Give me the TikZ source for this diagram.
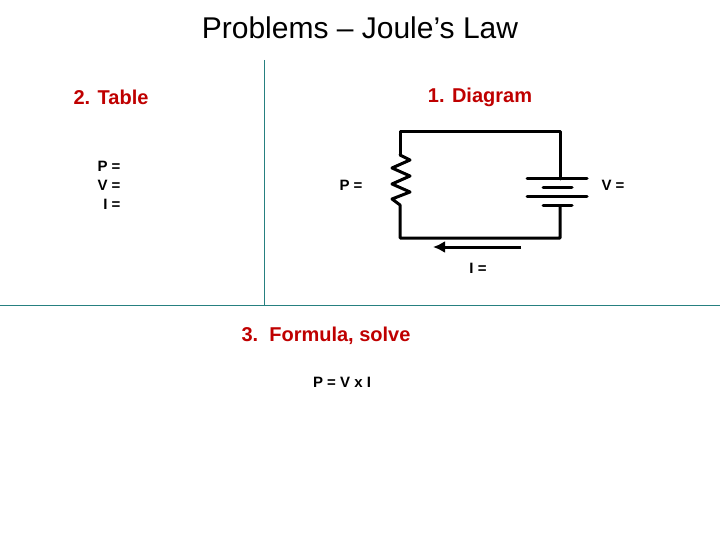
\documentclass[tikz,border=0pt]{standalone}
\usepackage{fontspec}
\usetikzlibrary{arrows.meta}
\setmainfont{Liberation Sans}
\begin{document}
\begin{tikzpicture}[x=1pt,y=-1pt,
  lbl/.style={text=red!75!black,font=\fontsize{20}{24}\selectfont\bfseries},
  val/.style={font=\fontsize{15}{19}\selectfont\bfseries,align=center},
  wire/.style={line width=3pt,line cap=round,line join=round},
  sep/.style={draw=teal!70!gray,line width=0.8pt}]
\useasboundingbox (0,0) rectangle (720,540);
\node (title) at (360,28) {\fontsize{30}{34}\selectfont Problems -- Joule's Law};
\draw[sep] (264,60) coordinate (vt) -- (264,305) coordinate (vb);
\draw[sep] (0,305) coordinate (hl) -- (720,305) coordinate (hr);
\node[lbl] (t2) at (111,97) {2. Table};
\node[lbl] (t1) at (480,97) {1. Diagram};
\node[lbl] (t3) at (326,336) {3.\ \ Formula, solve};
\node[val,align=right,anchor=east] (pvi) at (124,185) {P =\\V =\\I =};
\node[val] (pl) at (351,185) {P =};
\node[val] (vl) at (613,185) {V =};
\node[val] (il) at (478,268) {I =};
\node[val] (f) at (342,382) {P = V x I};
\draw[wire] (400,155) -- (400,132) -- (560,132) -- (560,179);
\draw[wire] (400,155) -- (410,160) -- (392,168) -- (410,176) -- (392,184) -- (410,192) -- (392,199) -- (400,205) -- (400,238) -- (560,238) -- (560,206);
\draw[wire] (527,179) -- (587,179);
\draw[wire] (543,188) -- (572,188);
\draw[wire] (527,197) -- (587,197);
\draw[wire] (543,206) -- (572,206);
\coordinate (a1) at (521,247);
\coordinate (a2) at (433,247);
\draw[line width=3pt,-{Latex[length=12pt,width=12pt]}] (a1) -- (a2);
\end{tikzpicture}
\end{document}
